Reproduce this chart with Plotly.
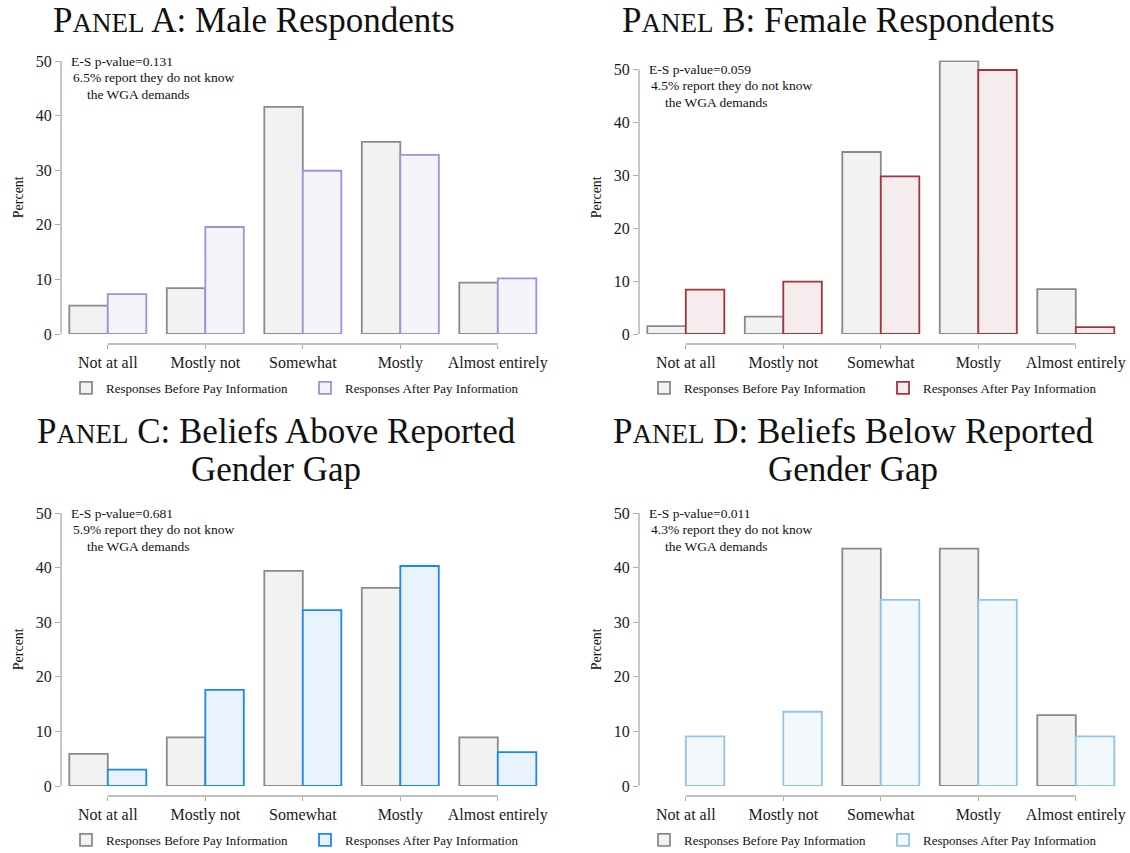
import plotly.graph_objects as go

# ---- data -------------------------------------------------------------
CATEGORIES = ["Not at all", "Mostly not", "Somewhat", "Mostly", "Almost entirely"]
Y_TICKS = [0, 10, 20, 30, 40, 50]

BEFORE_A = [5.2, 8.4, 41.6, 35.2, 9.4]
AFTER_A = [7.3, 19.6, 29.9, 32.8, 10.2]

BEFORE_B = [1.5, 3.3, 34.4, 51.6, 8.5]
AFTER_B = [8.4, 9.9, 29.8, 49.9, 1.3]

BEFORE_C = [5.9, 8.9, 39.4, 36.3, 8.9]
AFTER_C = [3.0, 17.6, 32.2, 40.3, 6.2]

BEFORE_D = [0.0, 0.0, 43.5, 43.5, 13.0]
AFTER_D = [9.1, 13.6, 34.1, 34.1, 9.1]

P_VALUES = ["0.131", "0.059", "0.681", "0.011"]
DONT_KNOW = ["6.5", "4.5", "5.9", "4.3"]

BEFORE_NAME = "Responses Before Pay Information"
AFTER_NAME = "Responses After Pay Information"

# ---- styling / layout -------------------------------------------------
W, H = 1130, 853
FONT = "Liberation Serif"
AXIS_GREY = "#a9a9a9"
BEFORE_FILL, BEFORE_LINE = "#f2f2f2", "#8a8a8a"
TITLE_SIZE = 35
BAR_EDGE = 1.8


def sc(letter):
    # small-caps style "Panel" label
    return ('P<span style="font-size:%dpx">ANEL</span> ' % round(TITLE_SIZE * 0.78)) + letter + ':'


def drawn(values):
    # empty categories get no bar (and no outline) at all
    return [v if v > 0 else None for v in values]


panels = [
    dict(before=BEFORE_A, after=AFTER_A, fill="#f5f4fb", line="#9d93dc",
         title=[sc("A") + " Male Respondents"], tx=254, ty=[20],
         left=61, zero=334, top=60.5, legend_y=388),
    dict(before=BEFORE_B, after=AFTER_B, fill="#f4eced", line="#a3343d",
         title=[sc("B") + " Female Respondents"], tx=838, ty=[20],
         left=639, zero=334, top=60.5, legend_y=388),
    dict(before=BEFORE_C, after=AFTER_C, fill="#e9f3fe", line="#1b86f5",
         title=[sc("C") + " Beliefs Above Reported", "Gender Gap"], tx=276, ty=[432, 469],
         left=61, zero=786, top=512.5, legend_y=840),
    dict(before=BEFORE_D, after=AFTER_D, fill="#f3f8fc", line="#8fc5ec",
         title=[sc("D") + " Beliefs Below Reported", "Gender Gap"], tx=853, ty=[432, 469],
         left=639, zero=786, top=512.5, legend_y=840),
]

CAT_PX = 97.5          # pixels per category
X_RANGE = [-0.48, 4.5]


def fx(px):
    return px / W


def fy(py):
    return 1 - py / H


fig = go.Figure()
shapes, annotations = [], []
layout_axes = {}

for i, p in enumerate(panels):
    n = i + 1
    sfx = "" if n == 1 else str(n)
    xa, ya = "x" + sfx, "y" + sfx
    leg = "legend" + sfx

    fig.add_trace(go.Bar(
        x=list(range(len(CATEGORIES))), y=drawn(p["before"]), name=BEFORE_NAME,
        marker=dict(color=BEFORE_FILL, line=dict(color=BEFORE_LINE, width=BAR_EDGE)),
        xaxis=xa, yaxis=ya, legend=leg, offsetgroup="b%d" % n))
    fig.add_trace(go.Bar(
        x=list(range(len(CATEGORIES))), y=drawn(p["after"]), name=AFTER_NAME,
        marker=dict(color=p["fill"], line=dict(color=p["line"], width=BAR_EDGE)),
        xaxis=xa, yaxis=ya, legend=leg, offsetgroup="a%d" % n))

    right = p["left"] + (X_RANGE[1] - X_RANGE[0]) * CAT_PX
    ymax = max(50, max(p["before"] + p["after"])) + 0.1
    x_axis_py = p["zero"] + 10

    layout_axes["xaxis" + sfx] = dict(
        domain=[fx(p["left"]), fx(right)], range=X_RANGE,
        anchor="free", position=fy(x_axis_py), automargin=False,
        tickvals=list(range(len(CATEGORIES))), ticktext=CATEGORIES,
        ticks="outside", ticklen=4, tickwidth=1.3, tickcolor=AXIS_GREY,
        showline=False, showgrid=False, zeroline=False, fixedrange=True,
        tickfont=dict(family=FONT, size=16, color="#1a1a1a"))
    layout_axes["yaxis" + sfx] = dict(
        domain=[fy(p["zero"]), fy(p["top"])], range=[0, ymax],
        anchor=xa, tickvals=Y_TICKS, automargin=False,
        ticks="outside", ticklen=5, tickwidth=1.3, tickcolor=AXIS_GREY,
        showline=False, showgrid=False, zeroline=False, fixedrange=True,
        tickfont=dict(family=FONT, size=16, color="#1a1a1a"))

    # y axis line spans only the labelled 0-50 interval
    shapes.append(dict(type="line", xref=xa + " domain", yref=ya,
                       x0=0, x1=0, y0=Y_TICKS[0], y1=Y_TICKS[-1],
                       line=dict(color=AXIS_GREY, width=1.3)))
    # category axis line runs from the first to the last category
    shapes.append(dict(type="line", xref=xa, yref="paper",
                       x0=0, x1=len(CATEGORIES) - 1,
                       y0=fy(x_axis_py), y1=fy(x_axis_py),
                       line=dict(color=AXIS_GREY, width=1.3)))

    # panel title
    for line, ty in zip(p["title"], p["ty"]):
        annotations.append(dict(text=line, x=fx(p["tx"]), y=fy(ty), xref="paper", yref="paper",
                                xanchor="center", yanchor="middle", showarrow=False,
                                font=dict(family=FONT, size=TITLE_SIZE, color="#111")))

    # y axis title
    annotations.append(dict(text="Percent", textangle=-90, xref="paper", yref="paper",
                            x=fx(p["left"] - 43), y=fy((p["zero"] + p["top"]) / 2),
                            xanchor="center", yanchor="middle", showarrow=False,
                            font=dict(family=FONT, size=14, color="#111")))

    # test statistics note
    note = ["E-S p-value=" + P_VALUES[i],
            DONT_KNOW[i] + "% report they do not know",
            "the WGA demands"]
    shifts = [8, 10, 24]
    for k, (txt, xs) in enumerate(zip(note, shifts)):
        annotations.append(dict(text=txt, xref=xa + " domain", yref=ya,
                                x=0, y=50, xshift=xs, yshift=-16.5 * k,
                                xanchor="left", yanchor="middle", showarrow=False,
                                font=dict(family=FONT, size=13.5, color="#111")))

    layout_axes[leg] = dict(
        orientation="h", x=fx(p["left"] + 5), y=fy(p["legend_y"]),
        xanchor="left", yanchor="middle", bgcolor="rgba(0,0,0,0)",
        entrywidth=194, entrywidthmode="pixels", itemclick=False, itemdoubleclick=False,
        font=dict(family=FONT, size=13, color="#111"))

fig.update_layout(
    width=W, height=H, autosize=False,
    margin=dict(l=0, r=0, t=0, b=0, pad=0, autoexpand=False),
    paper_bgcolor="white", plot_bgcolor="white",
    barmode="group", bargap=0.21, bargroupgap=0,
    showlegend=True,
    shapes=shapes, annotations=annotations,
    **layout_axes,
)

fig.write_html("out.html", config={"displayModeBar": False})
